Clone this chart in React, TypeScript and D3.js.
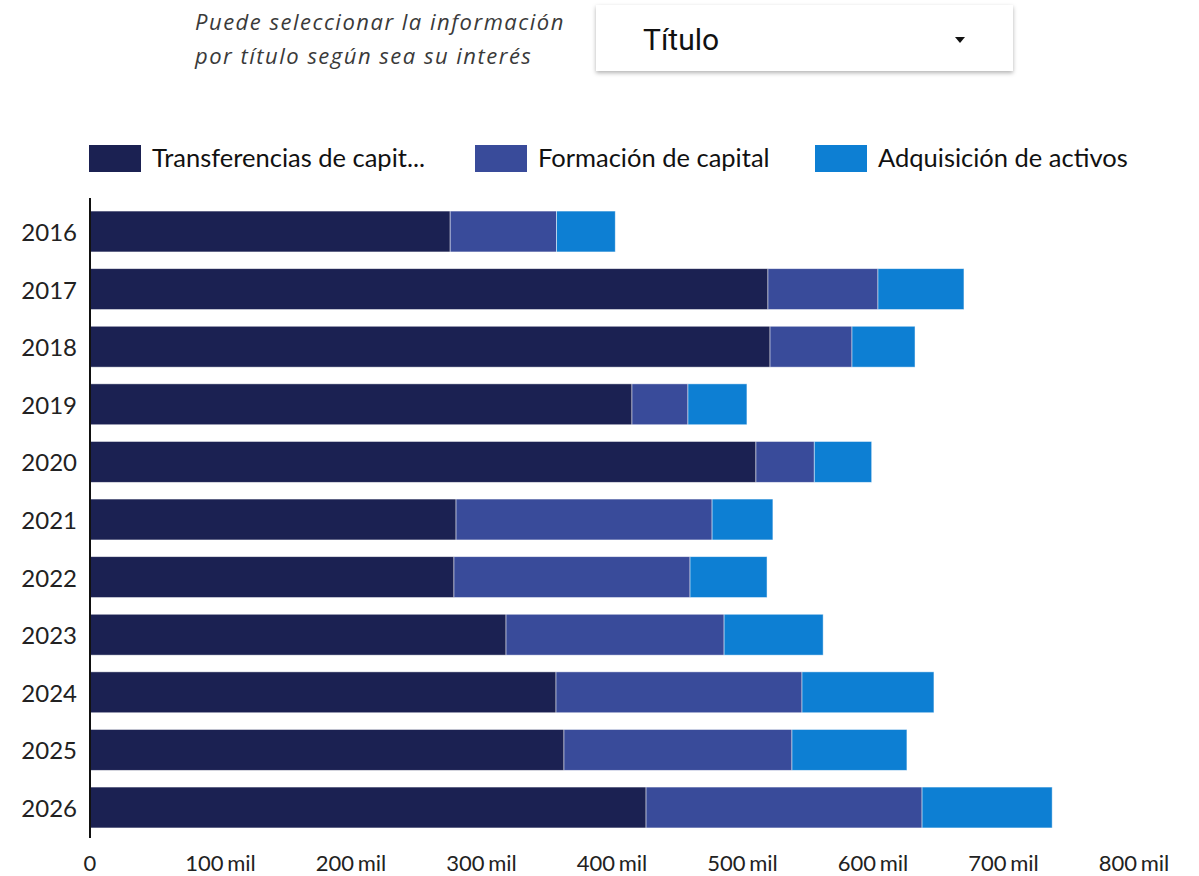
import React, { useMemo } from "react";
import * as d3 from "d3";

const years = ["2016", "2017", "2018", "2019", "2020", "2021", "2022", "2023", "2024", "2025", "2026"];
const transferencias = [276000, 519500, 521100, 415300, 510300, 280500, 278900, 318800, 357100, 363200, 426100];
const formacion = [81500, 84300, 62800, 42900, 44700, 196200, 180900, 167100, 188500, 174700, 211500];
const adquisicion = [45000, 65900, 48300, 45200, 44000, 46600, 59000, 75900, 101100, 88100, 99700];
const seriesNames = ["Transferencias de capit...", "Formación de capital", "Adquisición de activos"];
const seriesColors = ["#1b2152", "#394b9a", "#0d7fd3"];
const xTicks = [0, 100000, 200000, 300000, 400000, 500000, 600000, 700000, 800000];

const W = 1199;
const H = 876;

export default function App() {
  const x = useMemo(() => d3.scaleLinear().domain([0, 800000]).range([90, 1134]), []);
  const y = useMemo(
    () => d3.scaleBand<string>().domain(years).range([202.7, 836.3]).paddingInner(0.29).paddingOuter(0.145),
    []
  );

  const stacked = useMemo(() => {
    const rows = years.map((yr, i) => ({
      year: yr,
      s0: transferencias[i],
      s1: formacion[i],
      s2: adquisicion[i],
    }));
    return d3.stack<any>().keys(["s0", "s1", "s2"])(rows);
  }, []);

  const fmt = (v: number) => (v === 0 ? "0" : `${v / 1000} mil`);
  const legendX = [89, 475, 815];

  return (
    <svg width={W} height={H} style={{ position: "absolute", left: 0, top: 0, background: "#fff" }}>
      <defs>
        <filter id="shadow" x="-5%" y="-20%" width="110%" height="150%">
          <feDropShadow dx="0" dy="2" stdDeviation="2" floodColor="#000" floodOpacity="0.3" />
        </filter>
      </defs>

      {/* header */}
      <g fontFamily="'Open Sans', Lato, sans-serif" fontStyle="italic" fontSize={22} fill="#3a3a3a" letterSpacing={1.5}>
        <text x={195} y={30}>Puede seleccionar la información</text>
        <text x={195} y={64}>por título según sea su interés</text>
      </g>
      <rect x={596} y={5} width={417} height={66} fill="#fff" filter="url(#shadow)" />
      <text x={643} y={50} fontFamily="Roboto, sans-serif" fontSize={30} fill="#111">
        Título
      </text>
      <path d="M955,37 L965,37 L960,43 Z" fill="#111" />

      {/* legend */}
      <g fontFamily="Lato, sans-serif" fontSize={25.5} fill="#111">
        {seriesNames.map((n, i) => (
          <g key={n}>
            <rect x={legendX[i]} y={145} width={52} height={27} fill={seriesColors[i]} />
            <text x={legendX[i] + 63} y={167}>
              {n}
            </text>
          </g>
        ))}
      </g>

      {/* bars */}
      {stacked.map((layer, li) => (
        <g key={li} fill={seriesColors[li]}>
          {layer.map((d: any) => (
            <rect
              key={d.data.year}
              x={x(d[0])}
              y={y(d.data.year)}
              width={x(d[1]) - x(d[0])}
              height={y.bandwidth()}
              stroke="#fff"
              strokeOpacity={0.6}
              strokeWidth={0.8}
            />
          ))}
        </g>
      ))}

      {/* y labels */}
      <g fontFamily="Lato, sans-serif" fontSize={24} fill="#222">
        {years.map((yr) => (
          <text key={yr} x={77} y={(y(yr) ?? 0) + y.bandwidth() / 2} textAnchor="end" dominantBaseline="central">
            {yr}
          </text>
        ))}
      </g>
      <line x1={90} x2={90} y1={198} y2={838} stroke="#111" strokeWidth={2} />

      {/* x ticks */}
      <g fontFamily="Lato, sans-serif" fontSize={22} fill="#222" wordSpacing={-2}>
        {xTicks.map((t) => (
          <text key={t} x={x(t)} y={871} textAnchor="middle">
            {fmt(t)}
          </text>
        ))}
      </g>
    </svg>
  );
}
